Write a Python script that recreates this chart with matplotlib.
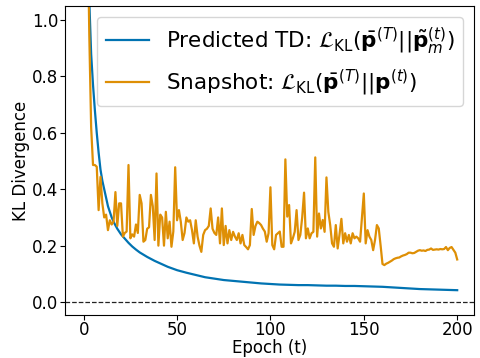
import matplotlib
matplotlib.use("Agg")
import matplotlib.pyplot as plt
import numpy as np

# Predicted TD (smooth curve), sampled epochs
td_epochs = [0, 1, 2, 3, 4, 5, 6, 7, 8, 9, 10, 11, 12, 13, 14, 15, 16, 17, 18, 19, 20,
             22, 24, 26, 28, 30, 32, 34, 36, 38, 40, 45, 50, 55, 60, 65, 70, 75, 80,
             85, 90, 95, 100, 105, 110, 115, 120, 125, 130, 135, 140, 145, 150, 155,
             160, 165, 170, 175, 180, 185, 190, 195, 200]
td_values = [2.30, 1.70, 1.35, 1.07, 0.88, 0.77, 0.68, 0.60, 0.53, 0.47, 0.43, 0.40,
             0.37, 0.34, 0.32, 0.30, 0.285, 0.272, 0.26, 0.25, 0.24,
             0.225, 0.21, 0.197, 0.186, 0.176, 0.168, 0.160, 0.153, 0.146, 0.140,
             0.125, 0.113, 0.104, 0.096, 0.088, 0.083, 0.078, 0.075, 0.072, 0.069,
             0.066, 0.064, 0.062, 0.061, 0.060, 0.060, 0.059, 0.058, 0.058, 0.057,
             0.057, 0.056, 0.055, 0.054, 0.052, 0.050, 0.048, 0.046, 0.045, 0.044,
             0.043, 0.042]

# Snapshot KL per epoch (0..200)
snap_epochs = list(range(201))
snap_values = [
    3.0, 2.2, 1.4, 0.95, 0.62, 0.486, 0.486, 0.48, 0.326, 0.444,
    0.35, 0.30, 0.31, 0.255, 0.29, 0.275, 0.285, 0.39, 0.27, 0.35,
    0.35, 0.232, 0.245, 0.25, 0.486, 0.226, 0.24, 0.232, 0.275, 0.245,
    0.38, 0.35, 0.214, 0.22, 0.26, 0.265, 0.38, 0.34, 0.22, 0.456,
    0.20, 0.31, 0.30, 0.20, 0.32, 0.226, 0.285, 0.196, 0.25, 0.478,
    0.29, 0.326, 0.285, 0.22, 0.245, 0.30, 0.285, 0.29, 0.255, 0.208,
    0.29, 0.232, 0.20, 0.178, 0.238, 0.255, 0.26, 0.27, 0.332, 0.26,
    0.245, 0.238, 0.30, 0.208, 0.332, 0.202, 0.27, 0.208, 0.255, 0.22,
    0.249, 0.232, 0.22, 0.244, 0.208, 0.238, 0.202, 0.195, 0.187, 0.202,
    0.33, 0.238, 0.27, 0.285, 0.28, 0.273, 0.26, 0.25, 0.214, 0.244,
    0.407, 0.202, 0.187, 0.238, 0.244, 0.25, 0.196, 0.196, 0.506, 0.303,
    0.344, 0.208, 0.226, 0.249, 0.326, 0.22, 0.238, 0.30, 0.388, 0.226,
    0.261, 0.226, 0.244, 0.249, 0.513, 0.232, 0.314, 0.261, 0.291, 0.249,
    0.442, 0.32, 0.273, 0.208, 0.196, 0.273, 0.19, 0.24, 0.295, 0.208,
    0.244, 0.214, 0.238, 0.208, 0.244, 0.226, 0.232, 0.226, 0.214, 0.30,
    0.385, 0.208, 0.255, 0.232, 0.22, 0.184, 0.22, 0.273, 0.261, 0.20,
    0.135, 0.131, 0.136, 0.139, 0.143, 0.147, 0.152, 0.155, 0.157, 0.158,
    0.162, 0.165, 0.167, 0.170, 0.175, 0.175, 0.173, 0.174, 0.178, 0.182,
    0.184, 0.182, 0.183, 0.181, 0.185, 0.186, 0.19, 0.185, 0.186, 0.187,
    0.186, 0.188, 0.187, 0.188, 0.195, 0.184, 0.192, 0.195, 0.185, 0.175,
    0.151]

label_td = r"Predicted TD: $\mathcal{L}_{\mathrm{KL}}(\bar{\mathbf{p}}^{(T)}||\tilde{\mathbf{p}}_m^{(t)})$"
label_snap = r"Snapshot: $\mathcal{L}_{\mathrm{KL}}(\bar{\mathbf{p}}^{(T)}||\mathbf{p}^{(t)})$"

fig = plt.figure(figsize=(4.81, 3.58), dpi=100)
ax = fig.add_axes([65/481, 1-315/358, (474-65)/481, (315-6)/358])

ax.plot(td_epochs, td_values, color="#0173B2", lw=1.6, label=label_td)
ax.plot(snap_epochs, snap_values, color="#DE8F05", lw=1.6, label=label_snap)
ax.axhline(0.0, color="#222222", ls="--", lw=0.9)

ax.set_xlim(-10, 209)
ax.set_ylim(-0.046, 1.05)
ax.set_xticks([0, 50, 100, 150, 200])
ax.set_yticks([0.0, 0.2, 0.4, 0.6, 0.8, 1.0])
ax.tick_params(labelsize=12, pad=1.3)
ax.tick_params(axis="x", pad=0.6)
ax.set_xlabel("Epoch (t)", fontsize=12, labelpad=0)
ax.set_ylabel("KL Divergence", fontsize=12, labelpad=1.5)
ax.legend(loc="upper right", fontsize=15.5)

fig.savefig("out.png", dpi=100)
